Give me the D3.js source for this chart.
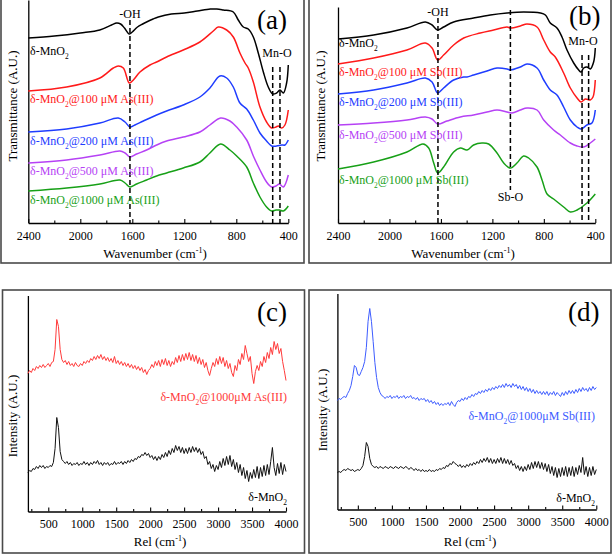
<!DOCTYPE html>
<html><head><meta charset="utf-8">
<script src="https://cdn.jsdelivr.net/npm/d3@7"></script>
<style>
body{margin:0;background:#fff}
svg{display:block}
text{font-family:"Liberation Serif","Times New Roman","DejaVu Serif",serif}
</style>
</head><body>
<svg id="chart" width="614" height="555"></svg>
<script>
// ---------- DATA ----------
// FTIR tick labels (wavenumber, cm-1)
const FTIR_TICKS = [2400, 2000, 1600, 1200, 800, 400];
const FTIR_MINOR = [2200, 1800, 1400, 1000, 600];
// Raman tick labels (Rel, cm-1)
const RAMAN_TICKS = [500, 1000, 1500, 2000, 2500, 3000, 3500, 4000];
const RAMAN_MINOR = [250, 750, 1250, 1750, 2250, 2750, 3250, 3750];

// Panel (a): FTIR, [wavenumber, transmittance A.U.]
const ftirA_MnO2 = [[2400,185],[2200,187],[2000,190],[1850,193],[1760,198],[1720,200],[1690,199],[1660,195],[1623,189],[1600,191],[1560,196],[1520,199],[1490,201],[1440,204],[1400,206],[1300,209],[1200,210],[1100,212],[1000,214],[950,214],[900,213],[823,211],[785,203],[746,196],[708,194],[669,186],[631,170],[592,151],[554,136],[520,129],[490,130],[464,133],[438,130],[413,140],[400,158]];
const ftirA_As100 = [[2400,132],[2105,136],[1849,145],[1746,155],[1708,157],[1669,155],[1623,140],[1592,143],[1541,151],[1464,158],[1413,161],[1336,166],[1208,173],[1080,181],[977,192],[939,196],[874,193],[823,186],[772,170],[733,160],[708,155],[669,141],[618,116],[567,101],[528,95],[495,96],[477,97],[451,95],[426,98],[400,113]];
const ftirA_As200 = [[2400,91],[2105,94],[1849,100],[1708,105],[1656,101],[1618,96],[1580,98],[1515,102],[1413,108],[1336,112],[1208,118],[1080,126],[1003,135],[926,147],[874,145],[823,136],[772,120],[720,114],[669,103],[618,90],[567,82],[528,77],[490,77],[451,78],[426,78],[400,83]];
const ftirA_As500 = [[2400,60],[2105,63],[1849,68],[1695,72],[1656,70],[1618,66],[1567,69],[1490,73],[1413,78],[1336,82],[1208,86],[1080,91],[1003,98],[921,105],[849,102],[797,96],[720,83],[669,67],[618,53],[567,41],[528,36],[495,37],[469,39],[438,36],[400,48]];
const ftirA_As1000 = [[2400,32],[2105,35],[1849,39],[1695,43],[1656,40],[1618,36],[1567,39],[1490,43],[1413,47],[1336,50],[1208,55],[1080,61],[1003,70],[921,79],[849,73],[797,67],[720,56],[669,40],[618,26],[567,16],[528,12],[495,13],[469,13],[438,12],[400,17]];

// Panel (b): FTIR, [wavenumber, transmittance A.U.]
const ftirB_MnO2 = [[2400,184],[2123,188],[1864,195],[1721,201],[1669,198],[1625,193],[1579,196],[1501,201],[1346,205],[1216,208],[1086,210],[957,211],[827,210],[788,208],[750,200],[698,195],[659,186],[620,173],[568,160],[529,153],[511,151],[490,155],[465,156],[439,154],[413,161],[400,175]];
const ftirB_Sb100 = [[2400,159],[2123,165],[1864,173],[1721,180],[1669,175],[1625,163],[1579,168],[1501,178],[1423,185],[1294,190],[1190,193],[1086,196],[1060,195],[983,197],[931,199],[853,196],[801,183],[750,171],[711,166],[646,150],[594,135],[542,125],[511,121],[477,124],[439,123],[418,126],[400,143]];
const ftirB_Sb200 = [[2400,129],[2123,133],[1864,140],[1721,145],[1669,141],[1625,130],[1579,135],[1501,143],[1423,146],[1397,146],[1346,148],[1242,152],[1164,155],[1086,154],[1060,153],[983,156],[931,159],[853,155],[801,143],[750,133],[698,128],[646,116],[594,103],[542,96],[511,94],[465,98],[426,100],[400,113]];
const ftirB_Sb500 = [[2400,98],[2123,100],[1864,103],[1721,106],[1669,104],[1625,99],[1553,102],[1449,106],[1346,108],[1242,111],[1164,113],[1086,111],[1047,110],[983,113],[931,115],[853,113],[801,103],[724,93],[672,88],[594,80],[542,77],[490,76],[439,80],[400,84]];
const ftirB_Sb1000 = [[2400,54],[2123,61],[1864,71],[1739,79],[1695,75],[1656,60],[1625,50],[1579,56],[1501,71],[1449,75],[1397,73],[1346,78],[1281,80],[1229,79],[1164,70],[1112,60],[1060,55],[1009,60],[957,67],[918,65],[853,56],[814,43],[775,29],[724,24],[646,16],[594,11],[542,13],[465,20],[400,29]];

// Band markers (cm-1)
const BANDS_A = {OH: 1618, MnO: [520, 464]};
const BANDS_B = {OH: 1623, SbO: 1060, MnO: [503, 452]};

// Raman spectra sampled every 25 cm-1 from 200 to 4000 (intensity A.U.)
const RAMAN_SHIFT = d3.range(200, 4001, 25);
const ramanC_As1000 = [
138,141,139,143,141,145,143,146, 144,147,144,146,148,145,149,150,
162,192,185,162,152,149,151,147, 150,146,148,145,149,146,145,148,
146,150,148,151,149,153,151,155, 152,156,153,157,152,155,151,154,
150,153,149,155,148,151,147,150, 146,149,145,148,144,147,143,146,
142,145,141,144,139,142,137,141, 143,147,144,150,146,151,145,152,
147,153,146,151,145,150,147,154, 149,156,150,157,151,158,152,159,
151,157,150,156,148,154,147,152, 144,149,141,136,143,149,145,153,
147,155,148,154,145,151,143,148, 139,135,146,141,152,147,158,152,
166,158,150,155,138,128,140,146, 141,150,145,155,149,159,153,164,
157,170,162,168,158,163,150,141, 131];
const ramanC_MnO2 = [
39,41,40,43,42,45,43,46, 44,46,43,45,44,46,45,49,
63,94,84,60,52,50,48,50, 47,49,46,48,47,49,46,48,
47,50,47,49,46,49,47,50, 48,51,47,49,46,49,47,49,
46,48,47,50,47,49,48,50, 47,50,48,51,49,52,50,53,
52,55,54,57,56,59,56,58, 54,56,52,55,51,55,52,57,
54,59,55,61,57,63,59,66, 61,65,59,64,58,63,58,64,
59,65,60,64,59,63,57,60, 53,55,47,50,43,47,40,46,
42,50,44,53,46,55,47,56, 45,52,42,49,39,47,36,44,
33,41,30,39,33,42,34,45, 33,44,35,46,36,47,37,50,
64,44,36,48,38,49,37,47, 40];
const ramanD_Sb1000 = [
109,111,110,112,113,112,116,119, 124,133,144,142,135,134,138,142,
148,162,188,201,188,168,147,132, 122,117,114,113,111,113,112,114,
111,113,112,114,111,113,112,114, 111,113,112,114,111,112,110,112,
109,111,110,111,108,110,107,109, 106,108,105,107,104,106,104,106,
105,107,104,108,105,103,107,109, 108,111,109,112,110,113,112,115,
113,116,115,118,116,119,117,120, 118,121,119,122,120,123,121,124,
122,125,122,126,123,125,122,126, 123,125,121,124,120,123,119,122,
118,121,117,120,116,119,116,118, 115,118,115,118,114,117,115,118,
114,117,115,113,117,114,118,115, 119,116,119,116,120,117,121,118,
122,119,121,118,122,119,123,120, 122];
const ramanD_MnO2 = [
37,38,37,39,40,39,41,40, 39,40,38,39,40,39,41,44,
53,67,63,51,45,43,42,43, 41,43,42,41,43,42,41,43,
42,41,43,42,41,43,42,41, 43,42,40,42,41,39,41,39,
40,38,40,38,39,38,40,38, 39,38,40,39,41,40,42,41,
44,43,46,45,48,46,45,43, 45,42,44,42,45,43,46,44,
47,45,48,46,50,47,51,48, 52,47,51,46,50,46,51,47,
52,46,51,46,50,45,49,44, 46,41,44,39,43,38,43,39,
45,40,47,41,48,42,48,41, 47,40,46,38,45,36,43,34,
42,32,41,33,42,34,43,33, 42,34,43,33,42,35,44,37,
52,35,43,33,42,34,43,35, 40];

// ---------- DRAWING ----------
const svg = d3.select("#chart");
const SERIF = '"Liberation Serif","Times New Roman","DejaVu Serif",serif';
const COL = {black:"#000000", red:"#ff1a1a", blue:"#1f3dff", purple:"#b642f5", green:"#17a017", ramanRed:"#ff3b3b", ramanBlue:"#3d5cff"};

function rich(sel, x, y, s, o = {}) {
  const size = o.size || 12;
  const t = sel.append("text").attr("x", x).attr("y", y)
    .attr("font-family", SERIF)
    .attr("font-size", size).attr("fill", o.fill || "#000")
    .attr("text-anchor", o.anchor || "start");
  if (o.rotate) t.attr("transform", `rotate(-90,${x},${y})`);
  let shift = 0;
  s.split(/(_\{[^}]*\}|\^\{[^}]*\})/).forEach(p => {
    if (!p) return;
    let target = 0, fs = size, txt = p;
    if (p.startsWith("_{")) { target = size * 0.3; fs = size * 0.62; txt = p.slice(2, -1); }
    else if (p.startsWith("^{")) { target = -size * 0.42; fs = size * 0.62; txt = p.slice(2, -1); }
    t.append("tspan").attr("dy", target - shift).attr("font-size", fs).text(txt);
    shift = target;
  });
  return t;
}

function frame(x, y, w, h) {
  svg.append("rect").attr("x", x).attr("y", y).attr("width", w).attr("height", h)
    .attr("fill", "none").attr("stroke", "#4a4a4a").attr("stroke-width", 1.6);
}

function axes(g, x, y, ticks, minor, pad) {
  const y0 = y.range()[0];
  const ax = g.append("g").attr("transform", `translate(0,${y0})`)
    .call(d3.axisBottom(x).tickValues(ticks).tickSizeInner(-4).tickSizeOuter(0).tickPadding(pad).tickFormat(d3.format("d")));
  ax.attr("font-family", SERIF).attr("font-size", 12);
  ax.selectAll("text").attr("font-family", SERIF);
  ax.select(".domain").attr("stroke-width", 1.3);
  ax.selectAll(".tick line").attr("stroke-width", 1.1);
  const mx = g.append("g").attr("transform", `translate(0,${y0})`)
    .call(d3.axisBottom(x).tickValues(minor).tickSize(-2.5).tickFormat(""));
  mx.select(".domain").remove();
  mx.selectAll(".tick line").attr("stroke-width", 1.1);
  const ay = g.append("g").attr("transform", `translate(${x.range()[0]},0)`)
    .call(d3.axisLeft(y).tickValues([]).tickSizeOuter(0));
  ay.select(".domain").attr("stroke-width", 1.3);
}

function dashed(g, x, y, w, v0, v1) {
  g.append("line").attr("x1", x(w)).attr("x2", x(w)).attr("y1", y(v0)).attr("y2", y(v1))
    .attr("stroke", "#000").attr("stroke-width", 1.5).attr("stroke-dasharray", "5,3");
}

function ftirPanel(o) {
  const g = svg.append("g");
  const x = d3.scaleLinear().domain([2400, 400]).range(o.xr);
  const y = d3.scaleLinear().domain(o.yd).range(o.yr);
  axes(g, x, y, FTIR_TICKS, FTIR_MINOR, 8);
  const line = d3.line().x(d => x(d[0])).y(d => y(d[1])).curve(d3.curveCatmullRom.alpha(0.5));
  o.series.forEach(s => {
    g.append("path").datum(s.data).attr("d", line).attr("fill", "none")
      .attr("stroke", s.color).attr("stroke-width", 1.5).attr("stroke-linejoin", "round");
  });
  return {g, x, y};
}

function ramanPanel(o) {
  const g = svg.append("g");
  const x = d3.scaleLinear().domain([200, 4000]).range(o.xr);
  const y = d3.scaleLinear().domain([0, 216]).range(o.yr);
  axes(g, x, y, RAMAN_TICKS, RAMAN_MINOR, 8);
  const line = d3.line().x((d, i) => x(RAMAN_SHIFT[i])).y(d => y(d));
  o.series.forEach(s => {
    g.append("path").datum(s.data).attr("d", line).attr("fill", "none")
      .attr("stroke", s.color).attr("stroke-width", 1.0).attr("stroke-linejoin", "round");
  });
  return {g, x, y};
}

// Frames
frame(1, -2, 303, 265);
frame(309, -2, 302, 265);
frame(2.5, 290, 302, 263);
frame(309, 290, 302, 263);

// ---- Panel (a)
{
  const {g, x, y} = ftirPanel({xr: [28.3, 288.3], yd: [0, 223], yr: [223, 0], series: [
    {data: ftirA_MnO2, color: COL.black}, {data: ftirA_As100, color: COL.red},
    {data: ftirA_As200, color: COL.blue}, {data: ftirA_As500, color: COL.purple},
    {data: ftirA_As1000, color: COL.green}]});
  dashed(g, x, y, BANDS_A.OH, 203, 0);
  BANDS_A.MnO.forEach(w => dashed(g, x, y, w, 156, 0));
  rich(g, x(BANDS_A.OH), 18, "-OH", {anchor: "middle"});
  rich(g, 277, 57, "Mn-O", {anchor: "middle"});
  rich(g, 257, 29, "(a)", {size: 27});
  rich(g, 30, 55, "δ-MnO_{2}");
  rich(g, 30, 103, "δ-MnO_{2}@100 μM As(III)", {fill: COL.red});
  rich(g, 30, 145, "δ-MnO_{2}@200 μM As(III)", {fill: COL.blue});
  rich(g, 30, 175, "δ-MnO_{2}@500 μM As(III)", {fill: COL.purple});
  rich(g, 30, 204, "δ-MnO_{2}@1000 μM As(III)", {fill: COL.green});
  rich(g, 155, 258, "Wavenumber (cm^{-1})", {size: 13, anchor: "middle"});
  rich(g, 17, 106, "Transmittance (A.U.)", {size: 13, anchor: "middle", rotate: true});
}

// ---- Panel (b)
{
  const {g, x, y} = ftirPanel({xr: [338, 595.3], yd: [0, 216], yr: [223, 7], series: [
    {data: ftirB_MnO2, color: COL.black}, {data: ftirB_Sb100, color: COL.red},
    {data: ftirB_Sb200, color: COL.blue}, {data: ftirB_Sb500, color: COL.purple},
    {data: ftirB_Sb1000, color: COL.green}]});
  dashed(g, x, y, BANDS_B.OH, 205, 0);
  dashed(g, x, y, BANDS_B.SbO, 213, 33);
  BANDS_B.MnO.forEach(w => dashed(g, x, y, w, 168, 0));
  rich(g, x(BANDS_B.OH), 16, "-OH", {anchor: "middle"});
  rich(g, 583, 45, "Mn-O", {anchor: "middle"});
  rich(g, 569, 25, "(b)", {size: 27});
  rich(g, x(BANDS_B.SbO), 201, "Sb-O", {anchor: "middle"});
  rich(g, 339, 47, "δ-MnO_{2}");
  rich(g, 339, 76, "δ-MnO_{2}@100 μM Sb(III)", {fill: COL.red});
  rich(g, 339, 106, "δ-MnO_{2}@200 μM Sb(III)", {fill: COL.blue});
  rich(g, 339, 139, "δ-MnO_{2}@500 μM Sb(III)", {fill: COL.purple});
  rich(g, 339, 184, "δ-MnO_{2}@1000 μM Sb(III)", {fill: COL.green});
  rich(g, 463, 258, "Wavenumber (cm^{-1})", {size: 13, anchor: "middle"});
  rich(g, 325, 106, "Transmittance (A.U.)", {size: 13, anchor: "middle", rotate: true});
}

// ---- Panel (c)
{
  const {g} = ramanPanel({xr: [27.9, 286], yr: [511.5, 295.5], series: [
    {data: ramanC_As1000, color: COL.ramanRed}, {data: ramanC_MnO2, color: "#111"}]});
  rich(g, 257, 321, "(c)", {size: 27});
  rich(g, 287, 401, "δ-MnO_{2}@1000μM As(III)", {fill: COL.ramanRed, anchor: "end"});
  rich(g, 287, 501, "δ-MnO_{2}", {anchor: "end"});
  rich(g, 160, 546, "Rel (cm^{-1})", {size: 13, anchor: "middle"});
  rich(g, 17, 416, "Intensity (A.U.)", {size: 13, anchor: "middle", rotate: true});
}

// ---- Panel (d)
{
  const {g} = ramanPanel({xr: [337.4, 596.3], yr: [509.5, 293.5], series: [
    {data: ramanD_Sb1000, color: COL.ramanBlue}, {data: ramanD_MnO2, color: "#111"}]});
  rich(g, 568, 321, "(d)", {size: 27});
  rich(g, 595, 420, "δ-MnO_{2}@1000μM Sb(III)", {fill: COL.ramanBlue, anchor: "end"});
  rich(g, 595, 502, "δ-MnO_{2}", {anchor: "end"});
  rich(g, 470, 546, "Rel (cm^{-1})", {size: 13, anchor: "middle"});
  rich(g, 327, 410, "Intensity (A.U.)", {size: 13, anchor: "middle", rotate: true});
}
</script>
</body></html>
